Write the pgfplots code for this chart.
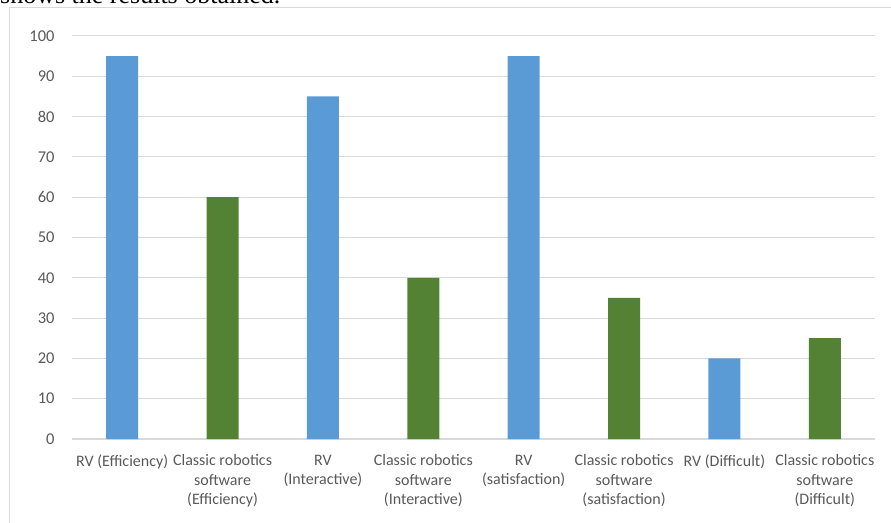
\documentclass[border=0pt]{standalone}
\usepackage{fontspec}
\setmainfont{Carlito}
\newfontfamily\serif{Liberation Serif}
\usepackage{pgfplots}
\pgfplotsset{compat=1.18}
\definecolor{barblue}{HTML}{5B9BD5}
\definecolor{bargreen}{HTML}{548235}
\definecolor{gridc}{HTML}{D9D9D9}
\definecolor{txt}{HTML}{595959}
\begin{document}
\begin{tikzpicture}
\useasboundingbox (0,0) rectangle (891bp,523bp);
\draw[gridc, line width=1bp] (9bp,-20bp) -- (9bp,515bp) -- (910bp,515bp);
\node[anchor=base west, inner sep=0pt, font=\serif\fontsize{26bp}{30bp}\selectfont] at (0bp,519bp) {shows the results obtained.};
\begin{axis}[
  at={(72bp,84bp)}, anchor=south west,
  scale only axis, width=803bp, height=403bp,
  xmin=-0.5, xmax=7.5, ymin=0, ymax=100,
  ytick={0,10,...,100},
  xtick={0,...,7},
  xticklabels={{RV (Efficiency)},{Classic robotics\\software\\(Efficiency)},{RV\\(Interactive)},{Classic robotics\\software\\(Interactive)},{RV\\(satisfaction)},{Classic robotics\\software\\(satisfaction)},{RV (Difficult)},{Classic robotics\\software\\(Difficult)}},
  xticklabel style={align=center, text=txt, font=\fontsize{16bp}{19.3bp}\selectfont, anchor=north, yshift=-8bp},
  yticklabel style={text=txt, font=\fontsize{16.5bp}{19.3bp}\selectfont, xshift=-14bp},
  /pgf/number format/assume math mode=true,
  axis x line*=bottom,
  axis y line*=left,
  y axis line style={draw=none},
  x axis line style={gridc, line width=1.5bp, -},
  tick style={draw=none},
  ymajorgrids, grid style={gridc, line width=1bp},
  ybar, bar width=32bp, bar shift=0pt,
  clip=false,
]
\addplot[fill=barblue, draw=none] coordinates {(0,95) (2,85) (4,95) (6,20)};
\addplot[fill=bargreen, draw=none] coordinates {(1,60) (3,40) (5,35) (7,25)};
\end{axis}
\end{tikzpicture}
\end{document}
